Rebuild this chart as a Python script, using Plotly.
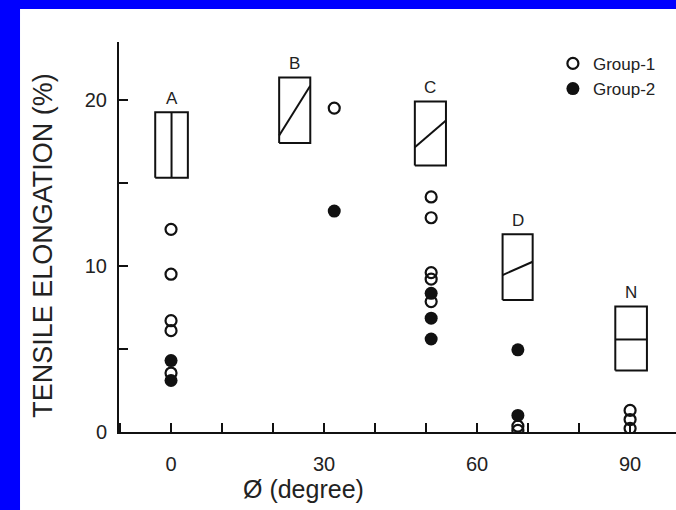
import plotly.graph_objects as go

# ---------------- data ----------------
# scatter points (angle in degrees, tensile elongation in %)
g1_x = [0, 0, 0, 0, 0, 32, 51, 51, 51, 51, 51, 68, 68, 90, 90, 90]
g1_y = [12.2, 9.5, 6.7, 6.1, 3.55, 19.5, 14.15, 12.9, 9.6, 9.2, 7.85, 0.35, 0.1, 1.3, 0.75, 0.22]
g2_x = [0, 0, 32, 51, 51, 51, 68, 68]
g2_y = [4.3, 3.1, 13.3, 8.35, 6.85, 5.6, 4.95, 1.0]

# range boxes with their inner trend lines
box_labels = ["A", "B", "C", "D", "N"]
box_x_lo = [-3.1, 21.2, 47.8, 65.0, 87.1]
box_x_hi = [3.3, 27.3, 53.9, 70.9, 93.3]
box_y_lo = [15.3, 17.4, 16.05, 7.95, 3.7]
box_y_hi = [19.25, 21.35, 19.9, 11.9, 7.55]
line_x0 = [0.1, 21.2, 47.8, 65.0, 87.1]
line_x1 = [0.1, 27.3, 53.9, 70.9, 93.3]
line_y0 = [15.3, 17.85, 17.15, 9.45, 5.57]
line_y1 = [19.25, 20.85, 18.75, 10.25, 5.57]

x_ticks = [0, 30, 60, 90]
y_ticks = [0, 10, 20]

# ---------------- figure ----------------
INK = "#111111"
FONT = "Liberation Sans, Arial, Helvetica, sans-serif"

fig = go.Figure()

bx, by = [], []
for i in range(len(box_labels)):
    bx += [box_x_lo[i], box_x_hi[i], box_x_hi[i], box_x_lo[i], box_x_lo[i], None]
    by += [box_y_lo[i], box_y_lo[i], box_y_hi[i], box_y_hi[i], box_y_lo[i], None]
fig.add_trace(go.Scatter(x=bx, y=by, mode="lines", line=dict(color=INK, width=2),
                         showlegend=False, hoverinfo="skip"))

lx, ly = [], []
for i in range(len(box_labels)):
    lx += [line_x0[i], line_x1[i], None]
    ly += [line_y0[i], line_y1[i], None]
fig.add_trace(go.Scatter(x=lx, y=ly, mode="lines", line=dict(color=INK, width=2),
                         showlegend=False, hoverinfo="skip"))

fig.add_trace(go.Scatter(x=g1_x, y=g1_y, mode="markers", name="Group-1",
                         marker=dict(symbol="circle-open", size=11, color=INK,
                                     line=dict(width=2.2, color=INK))))
fig.add_trace(go.Scatter(x=g2_x, y=g2_y, mode="markers", name="Group-2",
                         marker=dict(symbol="circle", size=13, color=INK)))

annotations = []
for i, lab in enumerate(box_labels):
    annotations.append(dict(x=(box_x_lo[i] + box_x_hi[i]) / 2, y=box_y_hi[i], xref="x", yref="y",
                            text=lab, showarrow=False, yanchor="middle", yshift=14,
                            font=dict(family=FONT, size=17, color="#222")))

annotations.append(dict(x=-0.138, y=0.478, xref="paper", yref="paper",
                        text="TENSILE ELONGATION (%)", showarrow=False, textangle=-90,
                        xanchor="center", yanchor="middle",
                        font=dict(family=FONT, size=27, color="#222")))
annotations.append(dict(x=0.332, y=-0.147, xref="paper", yref="paper",
                        text="Ø (degree)", showarrow=False,
                        xanchor="center", yanchor="middle",
                        font=dict(family=FONT, size=25, color="#222")))

fig.update_layout(
    width=676, height=510,
    margin=dict(l=119, r=0, t=42, b=78, pad=0),
    paper_bgcolor="#0000FF",
    plot_bgcolor="white",
    font=dict(family=FONT, color="#222"),
    shapes=[dict(type="rect", xref="paper", yref="paper", x0=-0.1777, x1=1.01,
                 y0=-0.3, y1=1.0846, fillcolor="white", line=dict(width=0), layer="below")],
    annotations=annotations,
    showlegend=True,
    legend=dict(x=0.779, y=0.99, xanchor="left", yanchor="top",
                bgcolor="rgba(0,0,0,0)", font=dict(family=FONT, size=17, color="#222"),
                tracegroupgap=0, itemwidth=30),
    xaxis=dict(range=[-10.2, 99.0], tickvals=x_ticks, ticks="inside", ticklen=9, tickwidth=2,
               tickcolor=INK, showline=True, linewidth=2, linecolor=INK, showgrid=False,
               zeroline=False, tickfont=dict(family=FONT, size=20, color="#222"),
               ticklabelstandoff=13,
               minor=dict(dtick=10, tick0=0, ticks="inside", ticklen=9, tickwidth=2,
                          tickcolor=INK, showgrid=False)),
    yaxis=dict(range=[0, 23.48], tickvals=y_ticks, ticks="inside", ticklen=9, tickwidth=2,
               tickcolor=INK, showline=True, linewidth=2, linecolor=INK, showgrid=False,
               zeroline=False, tickfont=dict(family=FONT, size=20, color="#222"),
               ticklabelstandoff=6,
               minor=dict(dtick=5, tick0=0, ticks="inside", ticklen=9, tickwidth=2,
                          tickcolor=INK, showgrid=False)),
)

fig.write_html("out.html", config={"displayModeBar": False},
               post_script="document.body.style.margin='0';document.body.style.padding='0';"
                           "document.documentElement.style.overflow='hidden';")
